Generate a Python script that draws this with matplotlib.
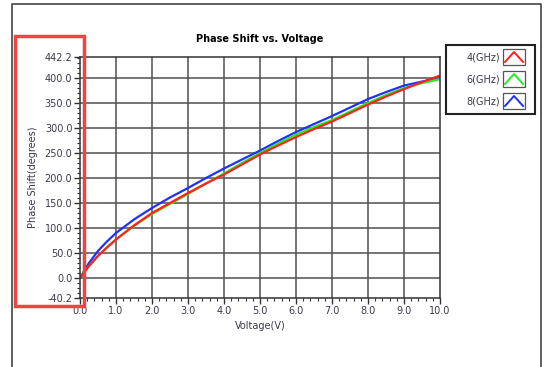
import matplotlib as mpl
mpl.use('Agg')

import matplotlib.pyplot as plt
import matplotlib.patches as patches
from matplotlib.lines import Line2D
import numpy as np

# data
voltage = [0, 0.25, 0.5, 0.75, 1, 1.5, 2, 2.5, 3, 3.5, 4, 4.5, 5,
           5.5, 6, 6.5, 7, 7.5, 8, 8.5, 9, 9.5, 10]
phase_4ghz = [0, 24, 44, 61, 77, 105, 130, 150, 170, 189, 207, 227, 247,
              265, 282, 298, 313, 330, 347, 363, 378, 392, 405]
phase_6ghz = [0, 24, 44, 61, 77, 104, 128, 148, 168, 189, 209, 230, 250,
              269, 287, 302, 316, 333, 350, 366, 380, 390, 398]
phase_8ghz = [0, 30, 54, 73, 90, 117, 140, 161, 180, 200, 219, 237, 255,
              274, 292, 308, 324, 341, 358, 372, 385, 393, 400]

series_labels = ['4(GHz)', '6(GHz)', '8(GHz)']
series_colors = ['#ff2020', '#20ee20', '#2030ff']

y_ticks = [442.2, 400, 350, 300, 250, 200, 150, 100, 50, 0, -40.2]
x_ticks = [0, 1, 2, 3, 4, 5, 6, 7, 8, 9, 10]

W, H = 549, 367
fig = plt.figure(figsize=(W / 100, H / 100), dpi=100)
fig.patch.set_facecolor('white')

ax = fig.add_axes([80 / W, 1 - 298 / H, 360 / W, 241 / H])

for ys, c in zip([phase_4ghz, phase_6ghz, phase_8ghz][::-1], series_colors[::-1]):
    ax.plot(voltage, ys, color=c, lw=1.6, solid_capstyle='round',
            solid_joinstyle='round')

ax.set_xlim(0, 10)
ax.set_ylim(-40.2, 442.2)
ax.set_xticks(x_ticks)
ax.set_xticklabels(['%.1f' % v for v in x_ticks])
ax.set_yticks(y_ticks)
ax.set_yticklabels(['%.1f' % v for v in y_ticks])
ax.set_xticks(np.arange(0, 10.01, 0.2), minor=True)
ax.set_yticks(np.arange(-40, 442, 10), minor=True)

# grid only on the round values
for v in x_ticks[1:-1]:
    ax.axvline(v, color='#505050', lw=1.1, zorder=0)
for v in [400, 350, 300, 250, 200, 150, 100, 50, 0]:
    ax.axhline(v, color='#505050', lw=1.1, zorder=0)

tick_color = '#3a3a4a'
ax.tick_params(axis='both', which='major', length=4, width=1, color='#333333',
               labelsize=7, labelcolor=tick_color, pad=1.5)
ax.tick_params(axis='both', which='minor', length=2, width=0.8, color='#333333')
for s in ax.spines.values():
    s.set_color('#333333')
    s.set_linewidth(1.1)

ax.set_title('Phase Shift vs. Voltage', fontsize=7, fontweight='bold', pad=11)
ax.set_xlabel('Voltage(V)', fontsize=7, color=tick_color, labelpad=4)
ax.set_ylabel('Phase Shift(degrees)', fontsize=7, color=tick_color, labelpad=5)

# legend box drawn by hand
lx0, ly0, lx1, ly1 = 446, 45, 535, 114
fig.patches.append(patches.Rectangle((lx0 / W, 1 - ly1 / H), (lx1 - lx0) / W,
                                     (ly1 - ly0) / H, transform=fig.transFigure,
                                     fill=False, ec='#222222', lw=1.5))
for i, (lab, c) in enumerate(zip(series_labels, series_colors)):
    yc = 57 + i * 22
    fig.text(500 / W, 1 - yc / H, lab, fontsize=7, color=tick_color,
             ha='right', va='center')
    bx, by, bw, bh = 503, yc - 8, 22, 16
    fig.patches.append(patches.Rectangle((bx / W, 1 - (by + bh) / H), bw / W, bh / H,
                                         transform=fig.transFigure, fill=False,
                                         ec='#555555', lw=0.9))
    fig.lines.append(Line2D([(bx + 2) / W, (bx + 11) / W, (bx + 20) / W],
                            [1 - (by + 13) / H, 1 - (by + 3) / H, 1 - (by + 13) / H],
                            transform=fig.transFigure, color=c, lw=1.4))

# outer frame of the screenshot
fig.lines.append(Line2D([12 / W, 12 / W, 541 / W, 541 / W],
                        [0, 1 - 4 / H, 1 - 4 / H, 0], transform=fig.transFigure,
                        color='#444444', lw=1.2))

# red highlight box around the y labels
fig.patches.append(patches.Rectangle((15 / W, 1 - 306 / H), 69 / W, 270 / H,
                                     transform=fig.transFigure, fill=False,
                                     ec='#ee4444', lw=2.5, zorder=10))

fig.savefig('out.png', dpi=100)
